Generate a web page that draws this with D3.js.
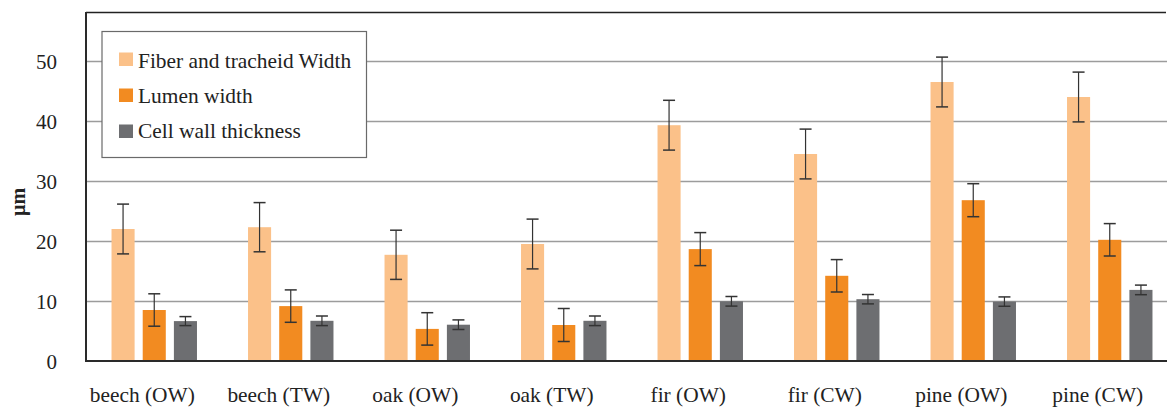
<!DOCTYPE html>
<html><head><meta charset="utf-8">
<script src="https://cdn.jsdelivr.net/npm/d3@7"></script>
<style>body{margin:0;background:#fff}svg{display:block}</style>
</head><body>
<svg id="c" width="1167" height="407"></svg>
<script>
const categories = ["beech (OW)","beech (TW)","oak (OW)","oak (TW)","fir (OW)","fir (CW)","pine (OW)","pine (CW)"];
const seriesNames = ["Fiber and tracheid Width","Lumen width","Cell wall thickness"];
const fiberWidth = [22.0,22.3,17.7,19.5,39.3,34.5,46.5,44.0];
const fiberSD    = [4.15,4.1,4.1,4.15,4.15,4.15,4.15,4.15];
const lumenWidth = [8.5,9.15,5.35,6.0,18.65,14.2,26.8,20.2];
const lumenSD    = [2.7,2.7,2.7,2.75,2.75,2.7,2.75,2.7];
const wallThick  = [6.65,6.7,6.05,6.7,9.95,10.3,9.9,11.85];
const wallSD     = [0.75,0.8,0.8,0.8,0.8,0.78,0.78,0.8];
const yTicks = [0,10,20,30,40,50];
const colors = ["#FBC189","#F28B21","#6D6E71"];

const values = [fiberWidth, lumenWidth, wallThick];
const sds = [fiberSD, lumenSD, wallSD];

const svg = d3.select("#c");
const pLeft = 86, pRight = 1178, pTop = 12, pBottom = 361;
const font = "'Liberation Serif','Times New Roman',serif";

const x = d3.scaleBand().domain(categories).range([pLeft, pRight]).paddingInner(0).paddingOuter(0);
const y = d3.scaleLinear().domain([0, (pBottom - pTop) / 6]).range([pBottom, pTop]);
const inner = d3.scaleBand().domain(d3.range(3)).range([x.bandwidth()*0.187, x.bandwidth()*0.813]).paddingInner(0.26).paddingOuter(0);

// gridlines
svg.append("g").selectAll("line").data(yTicks.filter(d => d > 0)).join("line")
  .attr("x1", pLeft).attr("x2", 1167)
  .attr("y1", d => Math.round(y(d)) + 0.5).attr("y2", d => Math.round(y(d)) + 0.5)
  .attr("stroke", "#9c9c9c").attr("stroke-width", 1.3);

// top frame line
svg.append("line").attr("x1", pLeft).attr("x2", 1166).attr("y1", pTop + 0.5).attr("y2", pTop + 0.5)
  .attr("stroke", "#222").attr("stroke-width", 1.5);

// bars
const groups = svg.append("g").selectAll("g").data(categories).join("g")
  .attr("transform", d => `translate(${x(d)},0)`);
groups.each(function(cat, ci) {
  const g = d3.select(this);
  for (let s = 0; s < 3; s++) {
    const v = values[s][ci], sd = sds[s][ci];
    const bx = inner(s), bw = inner.bandwidth();
    g.append("rect").attr("x", bx).attr("y", y(v)).attr("width", bw).attr("height", y(0) - y(v))
      .attr("fill", colors[s]);
    const cx = bx + bw / 2;
    g.append("line").attr("x1", cx).attr("x2", cx).attr("y1", y(v + sd)).attr("y2", y(v - sd))
      .attr("stroke", "#333").attr("stroke-width", 1.2);
    [v + sd, v - sd].forEach(e => {
      g.append("line").attr("x1", cx - 6).attr("x2", cx + 6).attr("y1", y(e)).attr("y2", y(e))
        .attr("stroke", "#333").attr("stroke-width", 1.5);
    });
  }
});

// axes lines
svg.append("line").attr("x1", pLeft).attr("x2", 1167).attr("y1", pBottom).attr("y2", pBottom)
  .attr("stroke", "#2a2a2a").attr("stroke-width", 2);
svg.append("line").attr("x1", pLeft).attr("x2", pLeft).attr("y1", pTop).attr("y2", pBottom + 1)
  .attr("stroke", "#2a2a2a").attr("stroke-width", 2);

// y tick labels
const yAxis = d3.axisLeft(y).tickValues(yTicks).tickSize(0).tickPadding(29);
const ya = svg.append("g").attr("transform", `translate(${pLeft},0)`).call(yAxis);
ya.select(".domain").remove();
ya.selectAll("text").attr("font-family", font).attr("font-size", 21).attr("fill", "#222").attr("dy", "0.35em");

// x labels (shifted slightly left of group centres, as in the source)
const xAxis = d3.axisBottom(x).tickSize(0).tickPadding(26);
const xa = svg.append("g").attr("transform", `translate(-12,${pBottom})`).call(xAxis);
xa.select(".domain").remove();
xa.selectAll("text").attr("font-family", font).attr("font-size", 21.4).attr("fill", "#222");

// y label
svg.append("text").attr("transform", `translate(25,202) rotate(-90)`).attr("text-anchor", "middle")
  .attr("font-family", font).attr("font-size", 20).attr("font-weight", "bold").attr("fill", "#222").text("µm");

// legend
const lg = svg.append("g");
lg.append("rect").attr("x", 102).attr("y", 31.5).attr("width", 264.5).attr("height", 126)
  .attr("fill", "#fff").attr("stroke", "#6a6a6a").attr("stroke-width", 1.2);
seriesNames.forEach((n, i) => {
  lg.append("rect").attr("x", 119).attr("y", 52.5 + i * 36).attr("width", 14).attr("height", 13.5).attr("fill", colors[i]);
  lg.append("text").attr("x", 138).attr("y", 68 + i * 35.2).attr("font-family", font).attr("font-size", 21.4)
    .attr("fill", "#222").text(n);
});
</script>
</body></html>
